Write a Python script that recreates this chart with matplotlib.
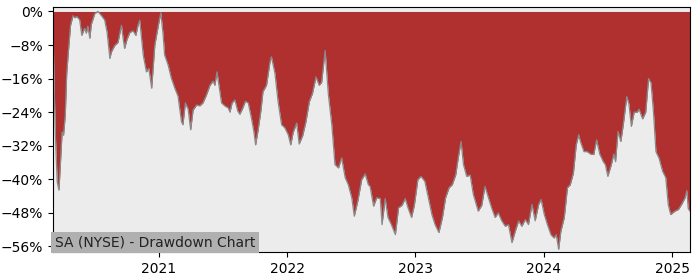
import matplotlib
matplotlib.use("Agg")
import matplotlib.pyplot as plt
import matplotlib.dates as mdates
from matplotlib.ticker import FuncFormatter
import pandas as pd

dates = [
    "2020-03-05", "2020-03-08", "2020-03-12", "2020-03-17", "2020-03-22", "2020-03-27", "2020-03-31",
    "2020-04-04", "2020-04-09", "2020-04-13", "2020-04-17", "2020-04-24", "2020-05-01", "2020-05-06",
    "2020-05-12", "2020-05-20", "2020-05-26", "2020-06-03", "2020-06-08", "2020-06-12", "2020-06-18",
    "2020-06-22", "2020-07-02", "2020-07-11", "2020-07-21", "2020-07-30", "2020-08-06", "2020-08-14",
    "2020-08-18", "2020-08-28", "2020-09-06", "2020-09-16", "2020-09-21", "2020-09-25", "2020-10-02",
    "2020-10-10", "2020-10-19", "2020-10-27", "2020-11-02", "2020-11-07", "2020-11-17", "2020-11-26",
    "2020-12-03", "2020-12-11", "2020-12-20", "2020-12-30", "2021-01-06", "2021-01-12", "2021-01-17",
    "2021-01-27", "2021-02-05", "2021-02-15", "2021-02-24", "2021-03-06", "2021-03-10", "2021-03-17",
    "2021-03-25", "2021-04-01", "2021-04-08", "2021-04-18", "2021-04-27", "2021-05-06", "2021-05-16",
    "2021-05-26", "2021-06-04", "2021-06-09", "2021-06-15", "2021-06-23", "2021-06-28", "2021-07-07",
    "2021-07-17", "2021-07-22", "2021-07-28", "2021-08-05", "2021-08-13", "2021-08-19", "2021-08-26",
    "2021-09-04", "2021-09-12", "2021-09-21", "2021-09-28", "2021-10-03", "2021-10-10", "2021-10-18",
    "2021-10-24", "2021-11-03", "2021-11-13", "2021-11-17", "2021-11-27", "2021-12-06", "2021-12-16",
    "2021-12-25", "2022-01-04", "2022-01-11", "2022-01-18", "2022-01-28", "2022-02-04", "2022-02-14",
    "2022-02-23", "2022-03-05", "2022-03-14", "2022-03-24", "2022-04-02", "2022-04-09", "2022-04-19",
    "2022-04-28", "2022-05-08", "2022-05-17", "2022-05-27", "2022-06-05", "2022-06-15", "2022-06-24",
    "2022-07-04", "2022-07-11", "2022-07-21", "2022-08-01", "2022-08-11", "2022-08-20", "2022-08-25",
    "2022-09-04", "2022-09-13", "2022-09-23", "2022-09-28", "2022-10-07", "2022-10-15", "2022-10-24",
    "2022-11-05", "2022-11-14", "2022-11-24", "2022-12-03", "2022-12-11", "2022-12-21", "2022-12-29",
    "2023-01-08", "2023-01-17", "2023-01-28", "2023-02-07", "2023-02-17", "2023-02-26", "2023-03-09",
    "2023-03-19", "2023-03-28", "2023-04-07", "2023-04-16", "2023-04-26", "2023-05-03", "2023-05-11",
    "2023-05-18", "2023-05-27", "2023-06-06", "2023-06-15", "2023-06-29", "2023-07-09", "2023-07-18",
    "2023-07-28", "2023-08-06", "2023-08-16", "2023-08-25", "2023-09-04", "2023-09-14", "2023-09-23",
    "2023-10-03", "2023-10-12", "2023-10-22", "2023-10-31", "2023-11-10", "2023-11-19", "2023-11-29",
    "2023-12-08", "2023-12-18", "2023-12-25", "2024-01-03", "2024-01-12", "2024-01-22", "2024-01-31",
    "2024-02-06", "2024-02-13", "2024-02-19", "2024-02-29", "2024-03-09", "2024-03-17", "2024-03-26",
    "2024-04-03", "2024-04-10", "2024-04-15", "2024-04-25", "2024-05-04", "2024-05-14", "2024-05-23",
    "2024-05-31", "2024-06-09", "2024-06-19", "2024-06-25", "2024-07-02", "2024-07-12", "2024-07-19",
    "2024-07-24", "2024-07-31", "2024-08-08", "2024-08-15", "2024-08-25", "2024-08-31", "2024-09-07",
    "2024-09-15", "2024-09-24", "2024-09-29", "2024-10-09", "2024-10-18", "2024-10-26", "2024-11-02",
    "2024-11-09", "2024-11-16", "2024-11-25", "2024-12-05", "2024-12-14", "2024-12-21", "2024-12-28",
    "2025-01-09", "2025-01-19", "2025-01-28", "2025-02-07", "2025-02-12", "2025-02-16", "2025-02-21",
]

drawdown = [
    -2.0, -17.0, -30.0, -40.6, -42.6, -35.0, -28.7,
    -29.5, -24.7, -15.0, -10.4, -3.3, -1.0, -1.5,
    -1.2, -2.0, -5.7, -4.0, -5.2, -3.5, -6.4,
    -3.1, -0.5, 0.0, -1.0, -2.0, -4.9, -11.2,
    -9.7, -8.1, -7.4, -3.3, -6.6, -8.8, -6.6,
    -5.0, -4.6, -5.7, -3.3, -2.1, -10.4, -14.4,
    -13.6, -18.3, -8.0, -3.3, -0.3, -5.0, -10.4,
    -12.8, -15.9, -18.3, -20.2, -26.3, -27.0, -21.8,
    -23.3, -28.2, -23.5, -22.3, -22.5, -21.8, -19.9,
    -17.6, -16.6, -17.6, -14.4, -19.0, -21.8, -22.5,
    -23.0, -24.0, -21.8, -21.1, -23.7, -24.5, -23.3,
    -21.4, -21.8, -25.4, -28.6, -31.8, -28.3, -23.7,
    -19.1, -17.6, -12.0, -10.8, -14.7, -21.5, -27.0,
    -27.7, -29.4, -31.8, -28.8, -26.6, -31.6, -29.6,
    -26.4, -21.5, -19.5, -15.6, -17.6, -16.9, -9.3,
    -19.6, -27.0, -36.5, -37.3, -34.9, -39.6, -41.3,
    -44.5, -48.8, -45.2, -40.1, -38.7, -41.3, -41.7,
    -46.4, -44.4, -44.6, -50.8, -44.6, -49.1, -50.7,
    -53.2, -46.8, -46.2, -44.6, -46.8, -49.1, -46.2,
    -40.1, -39.3, -40.5, -44.4, -48.4, -50.8, -52.7,
    -49.1, -44.4, -42.0, -41.3, -38.9, -34.9, -31.0,
    -36.5, -39.3, -39.0, -43.6, -47.6, -46.2, -41.7,
    -44.4, -46.8, -49.1, -48.0, -49.9, -51.2, -50.8,
    -55.1, -52.5, -49.9, -51.2, -49.6, -50.8, -46.0,
    -49.9, -46.0, -44.8, -48.4, -50.8, -53.2, -54.0,
    -53.2, -56.7, -52.5, -49.1, -42.0, -41.3, -38.5,
    -31.8, -29.4, -31.0, -33.4, -33.4, -34.0, -34.1,
    -30.6, -34.0, -35.8, -36.5, -39.3, -36.5, -34.0,
    -35.8, -28.6, -31.0, -27.0, -20.3, -22.0, -27.4,
    -24.0, -24.0, -23.3, -25.6, -24.0, -16.0, -17.0,
    -24.0, -33.4, -35.0, -38.1, -39.6, -46.0, -48.4,
    -47.6, -47.2, -46.0, -44.4, -42.7, -47.0, -47.6,
]

title_text = "SA (NYSE) - Drawdown Chart"
y_ticks = [0, -8, -16, -24, -32, -40, -48, -56]

x = pd.to_datetime(dates)

fig = plt.figure(figsize=(7, 2.8), dpi=100)
ax = fig.add_axes([0.0757, 0.099, 0.91, 0.875])
ax.set_facecolor("#ececec")

ax.fill_between(x, drawdown, 0, color="#b03030", linewidth=0)
ax.plot(x, drawdown, color="#8a8a8a", linewidth=0.9)

ax.set_xlim(x[0], x[-1])
ax.set_ylim(-57.4, 1.0)
ax.set_yticks(y_ticks)
ax.yaxis.set_major_formatter(FuncFormatter(lambda v, p: f"{v:.0f}%".replace("-", "\u2212")))
ax.xaxis.set_major_locator(mdates.YearLocator())
ax.xaxis.set_major_formatter(mdates.DateFormatter("%Y"))
ax.tick_params(labelsize=10)

ax.text(0.003, 0.012, title_text, transform=ax.transAxes, fontsize=10,
        ha="left", va="bottom", color="#222222",
        bbox=dict(facecolor="#b0b0b0", edgecolor="none", pad=2.5))

fig.savefig("out.png", dpi=100)
